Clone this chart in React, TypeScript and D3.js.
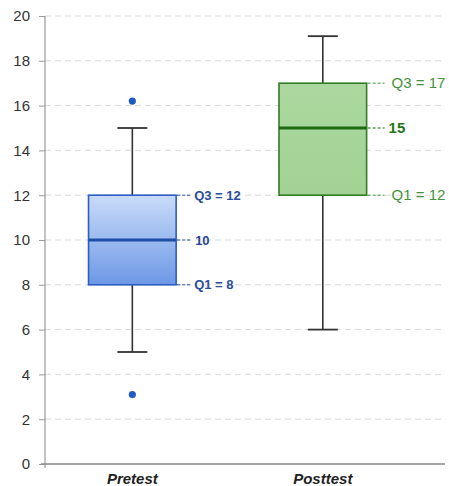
import { useEffect, useRef } from "react";
import * as d3 from "d3";

// Box plot of pretest vs posttest scores, drawn with D3 scales through a ref.

const WIDTH = 449;
const HEIGHT = 486;
const MARGIN = { top: 16, right: 4, bottom: 22, left: 45 };

const categories = ["Pretest", "Posttest"];
const q1Values = [8, 12];
const medianValues = [10, 15];
const q3Values = [12, 17];
const whiskerLow = [5, 6];
const whiskerHigh = [15, 19.1];
const outlierValues = [[16.2, 3.1], []];
const yTicks = [0, 2, 4, 6, 8, 10, 12, 14, 16, 18, 20];

const THEMES = [
  {
    top: "#c9dbf8",
    bottom: "#6d98e6",
    stroke: "#2d5cc2",
    median: "#1c4ea6",
    label: "#2a4c9c",
    medianLabel: "#1f4596",
    lead: 15,
    gap: 3,
    size: 13,
    weight: 600,
  },
  {
    top: "#acd89f",
    bottom: "#a3d294",
    stroke: "#2f7d24",
    median: "#1d6b12",
    label: "#44933a",
    medianLabel: "#25761a",
    lead: 18,
    gap: 7,
    size: 15,
    weight: 500,
  },
];

export default function App() {
  const svgRef = useRef<SVGSVGElement>(null);

  useEffect(() => {
    const svg = d3.select(svgRef.current);
    svg.selectAll("*").remove();

    const x0 = MARGIN.left;
    const x1 = WIDTH - MARGIN.right;
    const yBottom = HEIGHT - MARGIN.bottom;

    const y = d3.scaleLinear().domain([0, 20]).range([yBottom, MARGIN.top]);

    // boxes sit left of centre in the reference, hence the align
    const x = d3
      .scaleBand<string>()
      .domain(categories)
      .range([x0, x1])
      .paddingInner(0.54)
      .paddingOuter(0.32)
      .align(0.357);

    const font = "Liberation Sans, Arial, Helvetica, sans-serif";

    const defs = svg.append("defs");
    THEMES.forEach((t, i) => {
      const grad = defs
        .append("linearGradient")
        .attr("id", `boxgrad${i}`)
        .attr("x1", 0)
        .attr("y1", 0)
        .attr("x2", 0)
        .attr("y2", 1);
      grad.append("stop").attr("offset", "0%").attr("stop-color", t.top);
      grad.append("stop").attr("offset", "100%").attr("stop-color", t.bottom);
    });

    // dashed grid
    svg
      .append("g")
      .selectAll("line")
      .data(yTicks.filter((d) => d > 0))
      .join("line")
      .attr("x1", x0)
      .attr("x2", x1 - 2)
      .attr("y1", (d) => y(d))
      .attr("y2", (d) => y(d))
      .attr("stroke", "#d9d9d9")
      .attr("stroke-width", 1)
      .attr("stroke-dasharray", "6,4");

    // y axis
    svg
      .append("g")
      .attr("transform", `translate(${x0},0)`)
      .call(
        d3
          .axisLeft(y)
          .tickValues(yTicks)
          .tickSize(6)
          .tickPadding(9)
          .tickFormat((d) => String(d)),
      )
      .call((sel) => sel.select(".domain").remove())
      .call((sel) => sel.selectAll(".tick line").attr("stroke", "#999"))
      .call((sel) =>
        sel
          .selectAll("text")
          .attr("fill", "#333")
          .attr("font-size", 15)
          .attr("font-family", font),
      );

    svg
      .append("line")
      .attr("x1", x0)
      .attr("x2", x0)
      .attr("y1", y(20))
      .attr("y2", yBottom + 4)
      .attr("stroke", "#999")
      .attr("stroke-width", 1.2);

    svg
      .append("line")
      .attr("x1", x0 - 4)
      .attr("x2", x1)
      .attr("y1", yBottom)
      .attr("y2", yBottom)
      .attr("stroke", "#888")
      .attr("stroke-width", 1.5);

    // x labels
    svg
      .append("g")
      .selectAll("text")
      .data(categories)
      .join("text")
      .attr("x", (d) => (x(d) ?? 0) + x.bandwidth() / 2)
      .attr("y", HEIGHT - 2)
      .attr("text-anchor", "middle")
      .attr("font-family", font)
      .attr("font-size", 15)
      .attr("font-weight", "bold")
      .attr("font-style", "italic")
      .attr("fill", "#222")
      .text((d) => d);

    categories.forEach((cat, i) => {
      const t = THEMES[i];
      const left = x(cat) ?? 0;
      const bw = x.bandwidth();
      const cx = left + bw / 2;
      const g = svg.append("g");

      // whiskers
      g.append("line")
        .attr("x1", cx)
        .attr("x2", cx)
        .attr("y1", y(whiskerHigh[i]))
        .attr("y2", y(q3Values[i]))
        .attr("stroke", "#333")
        .attr("stroke-width", 1.6);
      g.append("line")
        .attr("x1", cx)
        .attr("x2", cx)
        .attr("y1", y(q1Values[i]))
        .attr("y2", y(whiskerLow[i]))
        .attr("stroke", "#333")
        .attr("stroke-width", 1.6);
      [whiskerLow[i], whiskerHigh[i]].forEach((v) => {
        g.append("line")
          .attr("x1", cx - 15)
          .attr("x2", cx + 15)
          .attr("y1", y(v))
          .attr("y2", y(v))
          .attr("stroke", "#333")
          .attr("stroke-width", 1.8);
      });

      // box
      g.append("rect")
        .attr("x", left)
        .attr("y", y(q3Values[i]))
        .attr("width", bw)
        .attr("height", y(q1Values[i]) - y(q3Values[i]))
        .attr("fill", `url(#boxgrad${i})`)
        .attr("stroke", t.stroke)
        .attr("stroke-width", 1.6);

      g.append("line")
        .attr("x1", left)
        .attr("x2", left + bw)
        .attr("y1", y(medianValues[i]))
        .attr("y2", y(medianValues[i]))
        .attr("stroke", t.median)
        .attr("stroke-width", 3.2);

      // outliers
      g.selectAll("circle")
        .data(outlierValues[i])
        .join("circle")
        .attr("cx", cx)
        .attr("cy", (d) => y(d))
        .attr("r", 3.6)
        .attr("fill", "#1f5bc4");

      // annotations
      const notes = [
        { v: q3Values[i], text: `Q3 = ${q3Values[i]}`, median: false },
        { v: medianValues[i], text: `${medianValues[i]}`, median: true },
        { v: q1Values[i], text: `Q1 = ${q1Values[i]}`, median: false },
      ];
      notes.forEach((n) => {
        g.append("line")
          .attr("x1", left + bw + 1)
          .attr("x2", left + bw + t.lead)
          .attr("y1", y(n.v))
          .attr("y2", y(n.v))
          .attr("stroke", n.median ? t.median : t.label)
          .attr("stroke-width", 1)
          .attr("stroke-dasharray", "3,2");
        g.append("text")
          .attr("x", left + bw + t.lead + (n.median ? 4 : t.gap))
          .attr("y", y(n.v))
          .attr("dy", "0.35em")
          .attr("font-family", font)
          .attr("font-size", t.size)
          .attr("font-weight", n.median ? "bold" : t.weight)
          .attr("fill", n.median ? t.medianLabel : t.label)
          .text(n.text);
      });
    });
  }, []);

  return (
    <div style={{ position: "fixed", left: 0, top: 0, background: "#fff" }}>
      <svg
        ref={svgRef}
        width={WIDTH}
        height={HEIGHT}
        style={{ display: "block" }}
        role="img"
        aria-label="Box plot pretest vs posttest"
      />
    </div>
  );
}
